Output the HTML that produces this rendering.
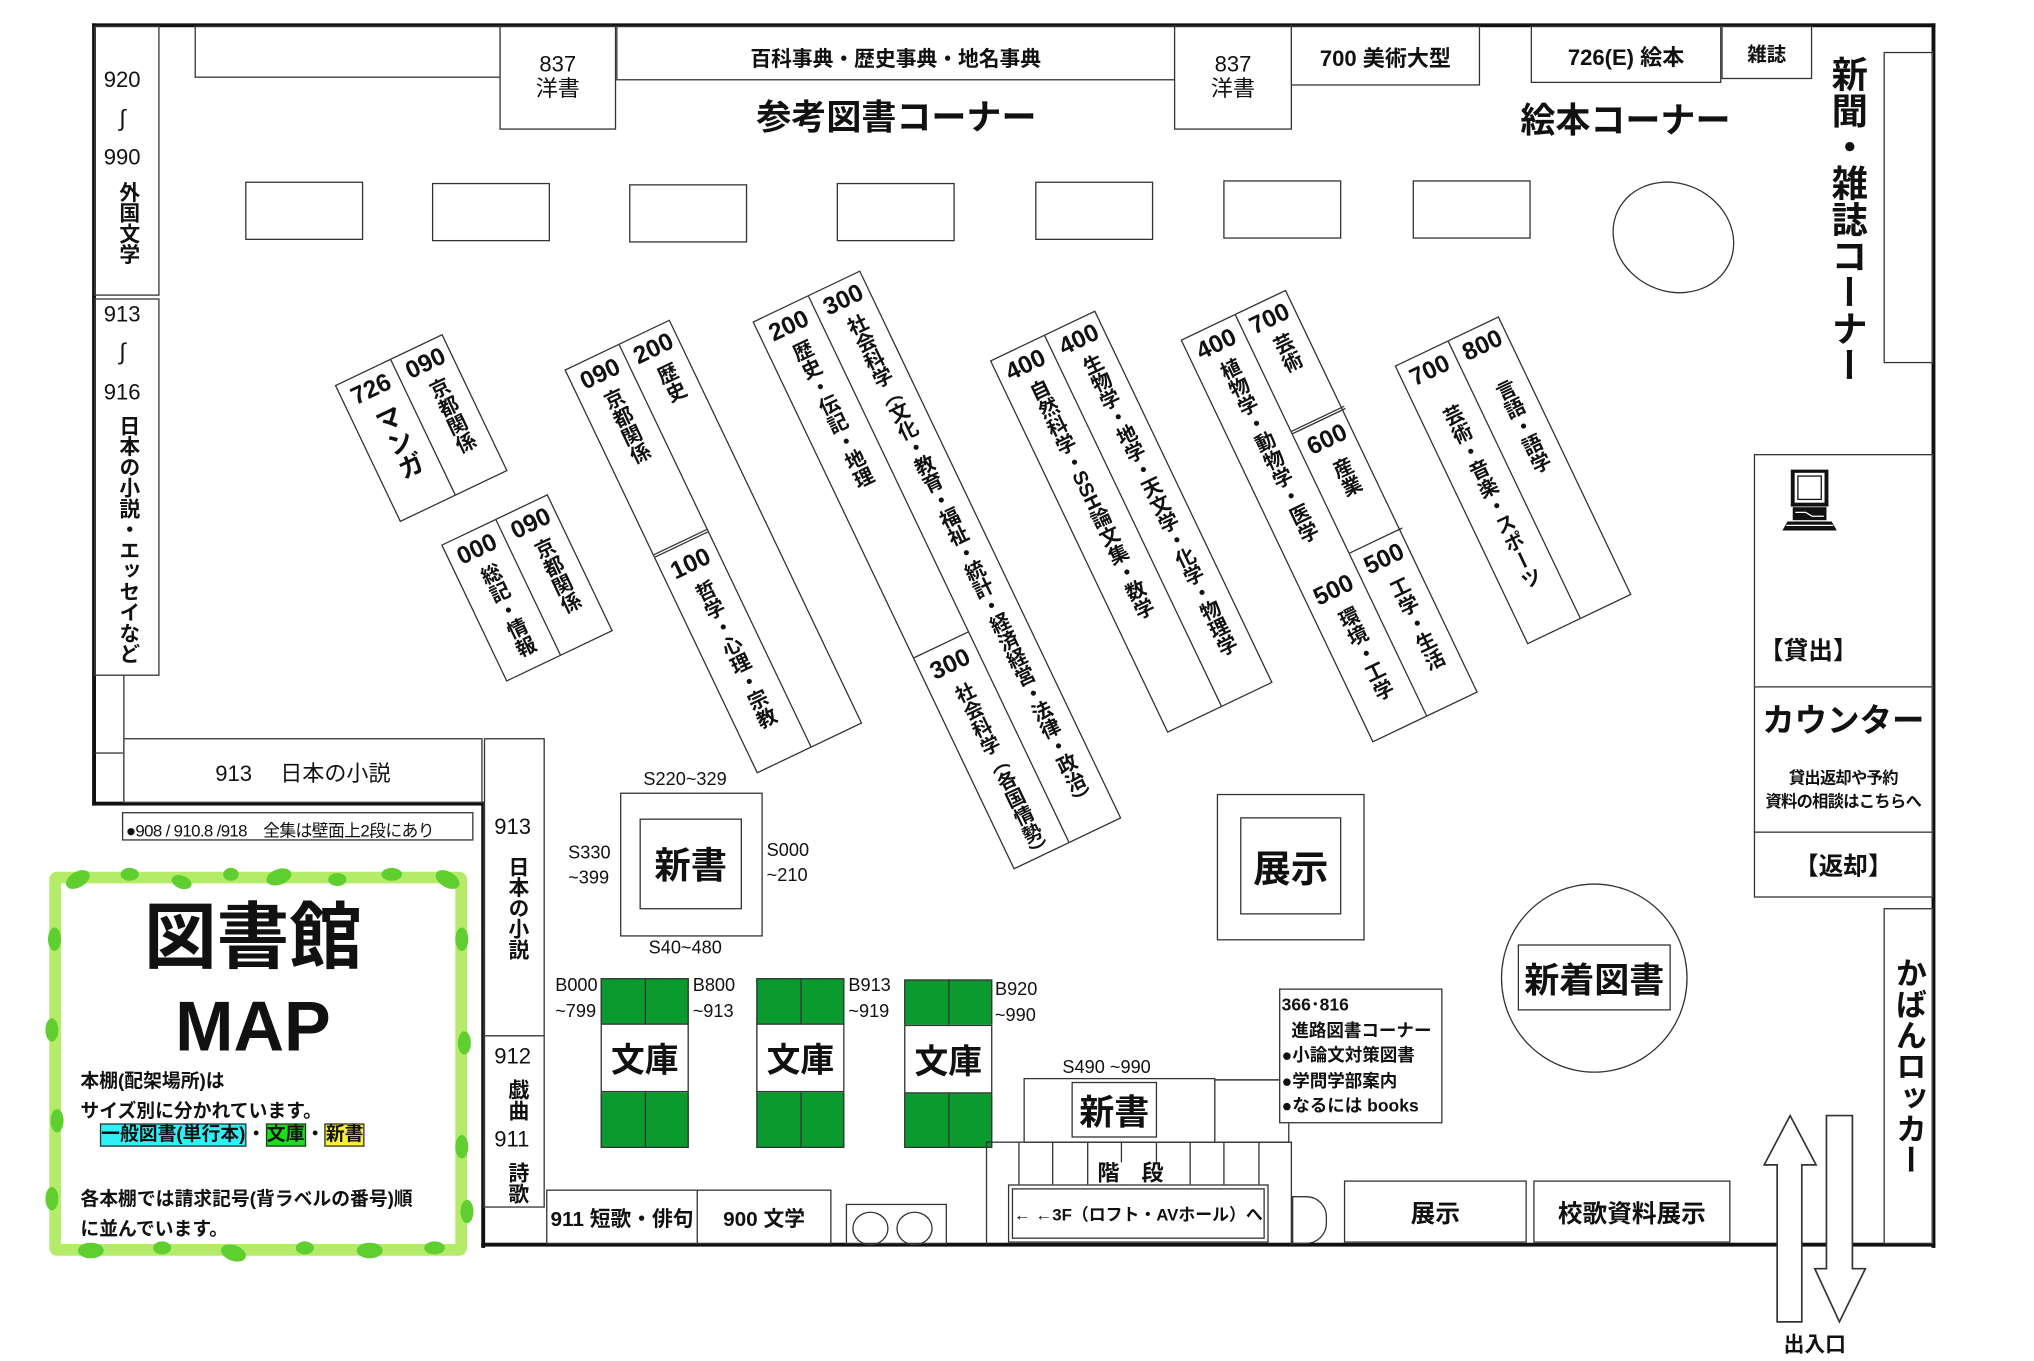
<!DOCTYPE html>
<html><head><meta charset="utf-8">
<style>
*{margin:0;padding:0;box-sizing:border-box}
html,body{width:2034px;height:1361px;overflow:hidden;background:#fff}
#w{position:absolute;left:0;top:0;width:1568px;height:1049px;transform:scale(1.2972);transform-origin:0 0;font-family:"Liberation Sans","Noto Sans CJK JP",sans-serif;color:#111}
.a{position:absolute}
.b{position:absolute;border:1.3px solid #333;background:#fff}
.t{position:absolute;white-space:nowrap;line-height:1}
.v{writing-mode:vertical-rl;white-space:nowrap;line-height:1}
.c{display:flex;align-items:center;justify-content:center}
.bold{font-weight:bold}
.sh{position:absolute;transform-origin:0 0;transform:rotate(-25.5deg);border:1.3px solid #333;background:#fff}
.col{position:absolute;top:0;height:100%}
.num{position:absolute;top:5px;left:0;width:100%;text-align:center;font-size:19px;font-weight:bold;line-height:1}
.lab{position:absolute;left:50%;transform:translateX(-50%);writing-mode:vertical-rl;font-size:15.5px;font-weight:bold;line-height:1;white-space:nowrap;letter-spacing:0}
.wall{position:absolute;background:#111}
</style></head><body><div id="w">

<!-- walls -->
<div class="wall" style="left:71px;top:18px;width:1421px;height:3px"></div>
<div class="wall" style="left:71px;top:18px;width:3px;height:603px"></div>
<div class="wall" style="left:71px;top:618px;width:302px;height:3px"></div>
<div class="wall" style="left:371px;top:618px;width:3px;height:344px"></div>
<div class="wall" style="left:371px;top:958px;width:1121px;height:3px"></div>
<div class="wall" style="left:1489px;top:18px;width:3px;height:944px"></div>

<!-- left wall shelves -->
<div class="b" style="left:73px;top:20px;width:50px;height:208px"></div>
<div class="b" style="left:73px;top:230px;width:50px;height:291px"></div>
<div class="t" style="left:80px;top:53px;font-size:17px">920</div>
<div class="t" style="left:92px;top:82px;font-size:18px">∫</div>
<div class="t" style="left:80px;top:113px;font-size:17px">990</div>
<div class="v bold a" style="left:89px;top:140px;font-size:16px">外国文学</div>
<div class="t" style="left:80px;top:234px;font-size:17px">913</div>
<div class="t" style="left:92px;top:262px;font-size:18px">∫</div>
<div class="t" style="left:80px;top:294px;font-size:17px">916</div>
<div class="v a" style="left:89px;top:320px;font-size:16px;font-weight:bold">日本の小説・エッセイなど</div>
<div class="a" style="left:95px;top:520px;width:1.3px;height:99px;background:#333"></div>
<div class="a" style="left:73px;top:580px;width:23px;height:1.3px;background:#333"></div>
<div class="b c" style="left:95px;top:569px;width:277px;height:50px;font-size:17px">913　 日本の小説</div>
<div class="b" style="left:94px;top:626px;width:271px;height:22px;font-size:13px;padding:3px 0 0 2px;white-space:nowrap;letter-spacing:-0.5px">●908 / 910.8 /918　全集は壁面上2段にあり</div>

<!-- 913 column -->
<div class="b" style="left:373px;top:569px;width:47px;height:230px"></div>
<div class="b" style="left:373px;top:798px;width:47px;height:133px"></div>
<div class="t" style="left:381px;top:629px;font-size:17px">913</div>
<div class="v a bold" style="left:389px;top:660px;font-size:16px">日本の小説</div>
<div class="t" style="left:381px;top:806px;font-size:17px">912</div>
<div class="v a bold" style="left:389px;top:832px;font-size:16px">戯曲</div>
<div class="t" style="left:381px;top:870px;font-size:17px">911</div>
<div class="v a bold" style="left:389px;top:896px;font-size:16px">詩歌</div>
<div class="b c" style="left:421px;top:917px;width:117px;height:42px;font-size:16px;font-weight:bold">911 短歌・俳句</div>
<div class="b c" style="left:537px;top:917px;width:104px;height:42px;font-size:16px;font-weight:bold">900 文学</div>
<div class="b" style="left:652px;top:928px;width:78px;height:31px"></div>
<div class="a" style="left:657px;top:934px;width:28px;height:26px;border:1.3px solid #333;border-radius:50%"></div>
<div class="a" style="left:691px;top:934px;width:28px;height:26px;border:1.3px solid #333;border-radius:50%"></div>

<!-- top wall shelves -->
<div class="b" style="left:150px;top:20px;width:236px;height:40px"></div>
<div class="b" style="left:385px;top:20px;width:90px;height:80px"></div>
<div class="t" style="left:385px;top:41px;width:90px;text-align:center;font-size:17px;line-height:1.1">837<br>洋書</div>
<div class="b c" style="left:475px;top:20px;width:431px;height:42px;font-size:16px;font-weight:bold;align-items:flex-start;padding-top:11px">百科事典・歴史事典・地名事典</div>
<div class="b" style="left:905px;top:20px;width:91px;height:80px"></div>
<div class="t" style="left:905px;top:41px;width:91px;text-align:center;font-size:17px;line-height:1.1">837<br>洋書</div>
<div class="b c" style="left:995px;top:20px;width:146px;height:46px;font-size:17px;font-weight:bold">700 美術大型</div>
<div class="b c" style="left:1180px;top:20px;width:147px;height:44px;font-size:17px;font-weight:bold">726(E) 絵本</div>
<div class="b c" style="left:1327px;top:20px;width:70px;height:41px;font-size:15px;font-weight:bold;align-items:flex-start;padding-top:10px">雑誌</div>
<div class="t bold" style="left:583px;top:78px;font-size:27px">参考図書コーナー</div>
<div class="t bold" style="left:1172px;top:80px;font-size:27px">絵本コーナー</div>
<div class="v a bold" style="left:1410px;top:43px;font-size:28px">新聞・雑誌コーナー</div>
<div class="b" style="left:1452px;top:40px;width:38px;height:240px"></div>

<!-- tables -->
<div class="b" style="left:189px;top:140px;width:91px;height:45px"></div>
<div class="b" style="left:333px;top:141px;width:91px;height:45px"></div>
<div class="b" style="left:485px;top:142px;width:91px;height:45px"></div>
<div class="b" style="left:645px;top:141px;width:91px;height:45px"></div>
<div class="b" style="left:798px;top:140px;width:91px;height:45px"></div>
<div class="b" style="left:943px;top:139px;width:91px;height:45px"></div>
<div class="b" style="left:1089px;top:139px;width:91px;height:45px"></div>
<div class="a" style="left:1242px;top:141px;width:96px;height:84px;border:1.3px solid #333;border-radius:50%;transform:rotate(25deg)"></div>

<!-- angled shelves -->
<div class="sh" style="left:258px;top:297px;width:92px;height:117px">
 <div class="col" style="left:0;width:46px"><div class="num">726</div><div class="lab" style="top:30px;font-size:20px">マンガ</div></div>
 <div class="col" style="left:46px;width:46px;border-left:1.3px solid #333"><div class="num">090</div><div class="lab" style="top:28px">京都関係</div></div>
</div>
<div class="sh" style="left:340px;top:420px;width:91px;height:117px">
 <div class="col" style="left:0;width:45px"><div class="num">000</div><div class="lab" style="top:28px">総記・情報</div></div>
 <div class="col" style="left:45px;width:46px;border-left:1.3px solid #333"><div class="num">090</div><div class="lab" style="top:28px">京都関係</div></div>
</div>
<div class="sh" style="left:435px;top:285px;width:90px;height:345px">
 <div class="col" style="left:0;width:45px"><div class="num">090</div><div class="lab" style="top:28px">京都関係</div>
  <div class="a" style="left:0;top:157px;width:45px;height:3px;border-top:1.3px solid #333;border-bottom:1.3px solid #333"></div>
  <div class="num" style="top:167px">100</div><div class="lab" style="top:192px">哲学・心理・宗教</div></div>
 <div class="col" style="left:45px;width:45px;border-left:1.3px solid #333"><div class="num">200</div><div class="lab" style="top:28px">歴史</div></div>
</div>
<div class="sh" style="left:580px;top:248px;width:92px;height:468px">
 <div class="col" style="left:0;width:46px"><div class="num">200</div><div class="lab" style="top:28px">歴史・伝記・地理</div>
  <div class="a" style="left:0;top:286px;width:46px;height:1.3px;background:#333"></div>
  <div class="num" style="top:294px">300</div><div class="lab" style="top:320px;font-size:15px">社会科学（各国情勢）</div></div>
 <div class="col" style="left:46px;width:46px;border-left:1.3px solid #333"><div class="num">300</div><div class="lab" style="top:28px;font-size:15.5px;letter-spacing:-0.5px">社会科学（文化・教育・福祉・統計・経済経営・法律・政治）</div></div>
</div>
<div class="sh" style="left:763px;top:278px;width:90px;height:318px">
 <div class="col" style="left:0;width:45px"><div class="num">400</div><div class="lab" style="top:28px">自然科学・SSH論文集・数学</div></div>
 <div class="col" style="left:45px;width:45px;border-left:1.3px solid #333"><div class="num">400</div><div class="lab" style="top:28px;letter-spacing:-0.5px">生物学・地学・天文学・化学・物理学</div></div>
</div>
<div class="sh" style="left:910px;top:262px;width:90px;height:344px">
 <div class="col" style="left:0;width:45px"><div class="num">400</div><div class="lab" style="top:28px">植物学・動物学・医学</div>
  <div class="num" style="top:215px">500</div><div class="lab" style="top:240px">環境・工学</div></div>
 <div class="col" style="left:45px;width:45px;border-left:1.3px solid #333"><div class="num">700</div><div class="lab" style="top:28px">芸術</div>
  <div class="a" style="left:0;top:99px;width:45px;height:3px;border-top:1.3px solid #333;border-bottom:1.3px solid #333"></div>
  <div class="num" style="top:108px">600</div><div class="lab" style="top:134px">産業</div>
  <div class="a" style="left:0;top:203px;width:45px;height:1.3px;background:#333"></div>
  <div class="num" style="top:210px">500</div><div class="lab" style="top:236px">工学・生活</div></div>
</div>
<div class="sh" style="left:1075px;top:282px;width:89px;height:238px">
 <div class="col" style="left:0;width:44px"><div class="num">700</div><div class="lab" style="top:45px">芸術・音楽・スポーツ</div></div>
 <div class="col" style="left:44px;width:45px;border-left:1.3px solid #333"><div class="num">800</div><div class="lab" style="top:45px">言語・語学</div></div>
</div>

<!-- 新書 upper -->
<div class="b" style="left:478px;top:611px;width:110px;height:111px"></div>
<div class="b c bold" style="left:493px;top:631px;width:79px;height:70px;font-size:28px">新書</div>
<div class="t" style="left:496px;top:593px;font-size:14px">S220~329</div>
<div class="t" style="left:438px;top:650px;font-size:14px">S330</div>
<div class="t" style="left:438px;top:669px;font-size:14px">~399</div>
<div class="t" style="left:591px;top:648px;font-size:14px">S000</div>
<div class="t" style="left:591px;top:667px;font-size:14px">~210</div>
<div class="t" style="left:500px;top:723px;font-size:14px">S40~480</div>

<!-- 文庫 -->
<div class="a" style="left:463px;top:754px;width:68px;height:131px;border:1.3px solid #333;background:#0a9a2e"></div>
<div class="a" style="left:497px;top:754px;width:1.3px;height:131px;background:#333"></div>
<div class="b c bold" style="left:463px;top:789px;width:68px;height:53px;font-size:26px">文庫</div>
<div class="a" style="left:583px;top:754px;width:68px;height:131px;border:1.3px solid #333;background:#0a9a2e"></div>
<div class="a" style="left:617px;top:754px;width:1.3px;height:131px;background:#333"></div>
<div class="b c bold" style="left:583px;top:789px;width:68px;height:53px;font-size:26px">文庫</div>
<div class="a" style="left:697px;top:755px;width:68px;height:130px;border:1.3px solid #333;background:#0a9a2e"></div>
<div class="a" style="left:731px;top:755px;width:1.3px;height:130px;background:#333"></div>
<div class="b c bold" style="left:697px;top:790px;width:68px;height:53px;font-size:26px">文庫</div>
<div class="t" style="left:428px;top:752px;font-size:14px">B000</div>
<div class="t" style="left:428px;top:772px;font-size:14px">~799</div>
<div class="t" style="left:534px;top:752px;font-size:14px">B800</div>
<div class="t" style="left:534px;top:772px;font-size:14px">~913</div>
<div class="t" style="left:654px;top:752px;font-size:14px">B913</div>
<div class="t" style="left:654px;top:772px;font-size:14px">~919</div>
<div class="t" style="left:767px;top:755px;font-size:14px">B920</div>
<div class="t" style="left:767px;top:775px;font-size:14px">~990</div>

<!-- lower 新書 & stairs -->
<div class="t" style="left:819px;top:815px;font-size:14px">S490 ~990</div>
<div class="b" style="left:789px;top:831px;width:148px;height:50px"></div>
<div class="b c bold" style="left:826px;top:834px;width:66px;height:43px;font-size:27px">新書</div>
<div class="b" style="left:936px;top:832px;width:58px;height:49px"></div>
<div class="a" style="left:936px;top:832px;width:50px;height:1.3px;background:#333"></div>
<div class="a" style="left:760px;top:880px;width:236px;height:80px;border:1.3px solid #333;border-bottom:none"></div>
<div class="a" style="left:785px;top:880px;width:1.3px;height:34px;background:#333"></div>
<div class="a" style="left:811px;top:880px;width:1.3px;height:34px;background:#333"></div>
<div class="a" style="left:838px;top:880px;width:1.3px;height:34px;background:#333"></div>
<div class="a" style="left:864px;top:880px;width:1.3px;height:34px;background:#333"></div>
<div class="a" style="left:891px;top:880px;width:1.3px;height:34px;background:#333"></div>
<div class="a" style="left:917px;top:880px;width:1.3px;height:34px;background:#333"></div>
<div class="a" style="left:943px;top:880px;width:1.3px;height:34px;background:#333"></div>
<div class="a" style="left:970px;top:880px;width:1.3px;height:34px;background:#333"></div>
<div class="t bold" style="left:845px;top:896px;font-size:17px;background:#fff;padding:0 1px">階　段</div>
<div class="a" style="left:777px;top:913px;width:201px;height:45px;border:1.3px solid #333;background:#fff;padding:2px">
 <div style="width:100%;height:100%;border:1.3px solid #333;font-size:13px;font-weight:bold;display:flex;align-items:center;justify-content:center;white-space:nowrap">← ←3F（ロフト・AVホール）へ</div></div>
<div class="a" style="left:996px;top:922px;width:27px;height:37px;border:1.3px solid #333;border-radius:0 16px 16px 0"></div>

<!-- 展示 -->
<div class="b" style="left:938px;top:612px;width:114px;height:113px"></div>
<div class="b c bold" style="left:956px;top:630px;width:78px;height:75px;font-size:29px">展示</div>
<div class="a" style="left:1157px;top:681px;width:144px;height:146px;border:1.3px solid #333;border-radius:50%"></div>
<div class="b c bold" style="left:1170px;top:728px;width:118px;height:51px;font-size:27px">新着図書</div>
<div class="b" style="left:986px;top:762px;width:126px;height:104px;font-size:13.5px;line-height:19.5px;padding:2px 0 0 1px;white-space:nowrap;font-weight:bold">366･816<br>&nbsp;&nbsp;進路図書コーナー<br>●小論文対策図書<br>●学問学部案内<br>●なるには books</div>
<div class="b c bold" style="left:1036px;top:910px;width:141px;height:48px;font-size:19px">展示</div>
<div class="b c bold" style="left:1182px;top:910px;width:152px;height:48px;font-size:19px">校歌資料展示</div>

<!-- counter -->
<div class="b" style="left:1352px;top:350px;width:138px;height:181px"></div>
<svg class="a" style="left:1372px;top:362px" width="46" height="48" viewBox="0 0 46 48">
 <rect x="10" y="1" width="26" height="26" fill="#fff" stroke="#111" stroke-width="3"/>
 <rect x="14" y="5" width="18" height="18" fill="#fff" stroke="#111" stroke-width="1"/>
 <rect x="10" y="29" width="26" height="10" fill="#111"/>
 <path d="M12 33 L20 33 L25 36 L34 36" stroke="#fff" stroke-width="1" fill="none"/>
 <polygon points="6,40 40,40 44,47 2,47" fill="#111"/>
 <line x1="5" y1="43" x2="41" y2="43" stroke="#fff" stroke-width="1"/>
</svg>
<div class="t bold" style="left:1356px;top:493px;font-size:19px">【貸出】</div>
<div class="b" style="left:1352px;top:529px;width:138px;height:113px"></div>
<div class="t bold" style="left:1352px;top:544px;width:138px;text-align:center;font-size:25px">カウンター</div>
<div class="t bold" style="left:1352px;top:591px;width:138px;text-align:center;font-size:12.5px;line-height:18px;letter-spacing:-0.5px">貸出返却や予約<br>資料の相談はこちらへ</div>
<div class="b c bold" style="left:1352px;top:641px;width:138px;height:51px;font-size:19px">【返却】</div>
<div class="b" style="left:1452px;top:700px;width:38px;height:259px"></div>
<div class="v a" style="left:1458px;top:738px;font-size:24px;font-weight:bold">かばんロッカー</div>

<!-- arrows -->
<svg class="a" style="left:1355px;top:855px" width="100" height="170">
 <polygon points="25,5 45,43 34,43 34,164 15,164 15,43 5,43" fill="#fff" stroke="#333" stroke-width="1.3"/>
 <polygon points="53,5 73,5 73,123 83,123 63,164 44,123 53,123" fill="#fff" stroke="#333" stroke-width="1.3"/>
</svg>
<div class="t bold" style="left:1375px;top:1030px;font-size:16px">出入口</div>

<!-- MAP frame -->
<div class="a" style="left:38px;top:672px;width:322px;height:296px;border:9px solid #b4ec6a;border-radius:6px"></div>
<svg class="a" style="left:30px;top:664px" width="340" height="312">
 <g fill="#5fcf2f">
  <ellipse cx="30" cy="14" rx="10" ry="6" transform="rotate(-30 30 14)"/>
  <ellipse cx="70" cy="10" rx="7" ry="5"/>
  <ellipse cx="110" cy="16" rx="8" ry="5" transform="rotate(20 110 16)"/>
  <ellipse cx="148" cy="10" rx="6" ry="5"/>
  <ellipse cx="185" cy="12" rx="10" ry="6" transform="rotate(-20 185 12)"/>
  <ellipse cx="230" cy="14" rx="7" ry="5"/>
  <ellipse cx="272" cy="10" rx="8" ry="5"/>
  <ellipse cx="315" cy="14" rx="10" ry="6" transform="rotate(30 315 14)"/>
  <ellipse cx="12" cy="60" rx="5" ry="9"/>
  <ellipse cx="10" cy="130" rx="5" ry="9"/>
  <ellipse cx="14" cy="200" rx="5" ry="9"/>
  <ellipse cx="10" cy="260" rx="5" ry="9"/>
  <ellipse cx="326" cy="60" rx="5" ry="9"/>
  <ellipse cx="328" cy="140" rx="5" ry="9"/>
  <ellipse cx="326" cy="220" rx="5" ry="9"/>
  <ellipse cx="330" cy="270" rx="5" ry="9"/>
  <ellipse cx="40" cy="300" rx="10" ry="6"/>
  <ellipse cx="95" cy="298" rx="7" ry="5"/>
  <ellipse cx="150" cy="302" rx="10" ry="6" transform="rotate(20 150 302)"/>
  <ellipse cx="205" cy="298" rx="7" ry="5"/>
  <ellipse cx="255" cy="300" rx="10" ry="6"/>
  <ellipse cx="305" cy="298" rx="8" ry="5"/>
 </g>
</svg>
<div class="t bold" style="left:40px;top:695px;width:310px;text-align:center;font-size:56px">図書館</div>
<div class="t bold" style="left:40px;top:765px;width:310px;text-align:center;font-size:54px">MAP</div>
<div class="t bold" style="left:62px;top:823px;font-size:14.5px;line-height:23px">本棚(配架場所)は<br>サイズ別に分かれています。</div>
<div class="t bold" style="left:77px;top:868px;font-size:14.5px"><span style="background:#2ff0f5;border:1px solid #333">一般図書(単行本)</span>・<span style="background:#18e018;border:1px solid #333">文庫</span>・<span style="background:#f8f030;border:1px solid #333">新書</span></div>
<div class="t bold" style="left:62px;top:914px;font-size:14.5px;line-height:23px">各本棚では請求記号(背ラベルの番号)順<br>に並んでいます。</div>

</div></body></html>
